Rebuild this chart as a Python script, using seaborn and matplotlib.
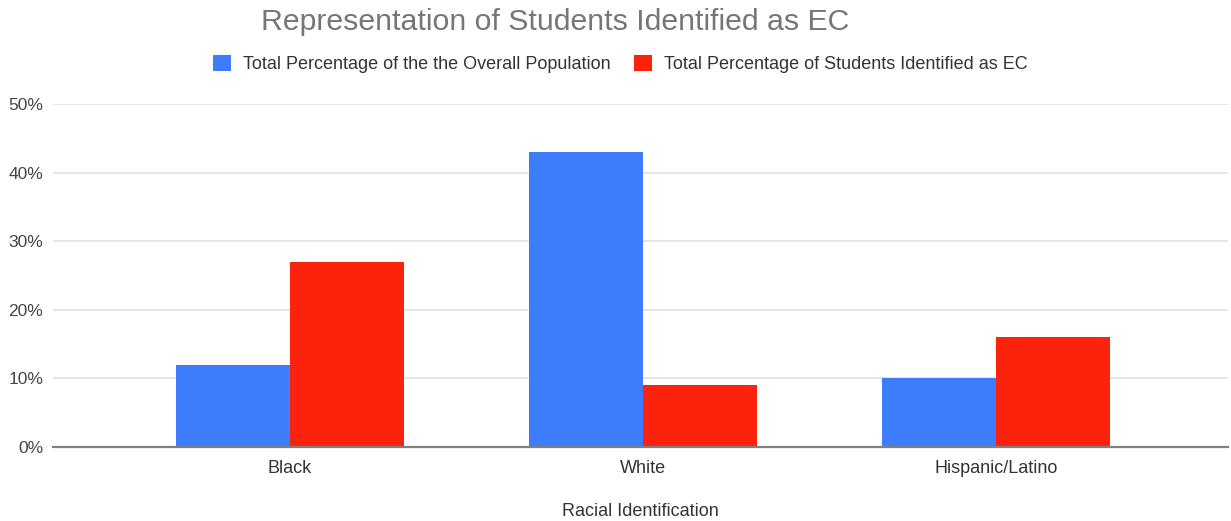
import matplotlib
matplotlib.use("Agg")
import matplotlib.pyplot as plt
import seaborn as sns
import pandas as pd

categories = ["Black", "White", "Hispanic/Latino"]
overall_population = [12, 43, 10]
identified_ec = [27, 9, 16]
series_names = ["Total Percentage of the the Overall Population",
                "Total Percentage of Students Identified as EC"]
y_ticks = [0, 10, 20, 30, 40, 50]
y_tick_labels = ["0%", "10%", "20%", "30%", "40%", "50%"]

df = pd.DataFrame({
    "Racial Identification": categories * 2,
    "Percent": overall_population + identified_ec,
    "Series": [series_names[0]] * len(categories) + [series_names[1]] * len(categories),
})

sns.set_theme(style="white")
plt.rcParams["font.family"] = ["Liberation Sans", "DejaVu Sans"]

fig = plt.figure(figsize=(12.31, 5.21), dpi=100)
ax = fig.add_axes([0.043, 0.142, 0.9546, 0.658])

palette = {series_names[0]: "#3d7cfd", series_names[1]: "#fc230c"}
sns.barplot(data=df, x="Racial Identification", y="Percent", hue="Series",
            palette=palette, width=0.646, gap=0, saturation=1,
            edgecolor="none", linewidth=0, ax=ax, legend=True, zorder=3)

ax.set_ylim(0, 50)
ax.set_xlim(-0.671, 2.657)
ax.set_yticks(y_ticks)
ax.set_yticklabels(y_tick_labels)
ax.yaxis.grid(True, color="#e3e3e3", linewidth=1.3, zorder=0)
ax.xaxis.grid(False)
for side in ["top", "right", "left"]:
    ax.spines[side].set_visible(False)
ax.spines["bottom"].set_color("#808080")
ax.spines["bottom"].set_linewidth(1.6)
ax.spines["bottom"].set_zorder(4)
ax.tick_params(axis="y", length=0, pad=7, labelsize=12.5, labelcolor="#444444")
ax.tick_params(axis="x", length=0, pad=9, labelsize=13, labelcolor="#333333")
ax.set_ylabel("")
ax.set_xlabel("Racial Identification", fontsize=13, color="#333333", labelpad=19)

handles, labels = ax.get_legend_handles_labels()
ax.get_legend().remove()
fig.legend(handles, labels, loc="center", bbox_to_anchor=(0.504, 0.877), ncol=2,
           frameon=False, fontsize=13, handlelength=1.0, handleheight=1.0,
           handletextpad=0.67, columnspacing=1.3, labelcolor="#333333")

fig.text(0.451, 0.958, "Representation of Students Identified as EC",
         ha="center", va="center", fontsize=21.8, color="#767676")

fig.savefig("out.png", dpi=100)
